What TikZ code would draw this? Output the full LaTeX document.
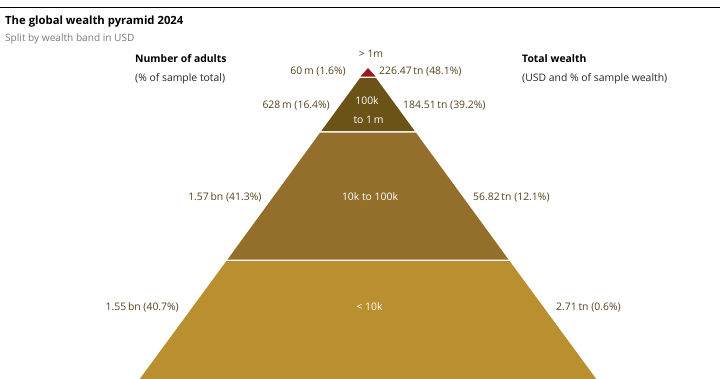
\documentclass[tikz,border=0pt]{standalone}
\usepackage{fontspec}
\setmainfont{Open Sans}
\definecolor{redtop}{HTML}{9A1A1E}
\definecolor{bandb}{HTML}{6B5216}
\definecolor{bandc}{HTML}{946F2C}
\definecolor{bandd}{HTML}{B98F2F}
\definecolor{lbl}{HTML}{54441F}
\definecolor{sub}{HTML}{7A7A7A}
\tikzset{
  lab/.style={font=\fontsize{10.4}{12}\selectfont, text=lbl, inner sep=0pt},
  inlab/.style={font=\fontsize{10.4}{12}\selectfont, text=white, inner sep=0pt},
  head/.style={font=\fontsize{10.4}{12}\selectfont\bfseries, text=black, inner sep=0pt},
  headsub/.style={font=\fontsize{10.4}{12}\selectfont, text=black!85, inner sep=0pt},
}
\begin{document}
\begin{tikzpicture}[x=1pt,y=-1pt]
\useasboundingbox (0,0) rectangle (720,378);
\fill[white] (0,0) rectangle (720,378);
% top rule
\draw[black, line width=0.9pt] (0,7) -- (720,7);
% title
\node[anchor=base west, inner sep=0pt, font=\fontsize{11.3}{14}\selectfont\bfseries] (title) at (5,24) {The global wealth pyramid 2024};
\node[anchor=base west, inner sep=0pt, text=sub, font=\fontsize{10.1}{12}\selectfont] (subtitle) at (5,41) {Split by wealth band in USD};
% column heads
\node[head, anchor=base west] (hl) at (135,62) {Number of adults};
\node[headsub, anchor=base west] (hl2) at (135,81) {(\% of sample total)};
\node[head, anchor=base west] (hr) at (522,62) {Total wealth};
\node[headsub, anchor=base west] (hr2) at (522,81) {(USD and \% of sample wealth)};
% pyramid bands
\fill[redtop] (368,68) -- (375.5,76.5) -- (360.5,76.5) -- cycle;
\fill[bandb] (360,78) -- (376,78) -- (414.7,131) -- (321.3,131) -- cycle;
\fill[bandc] (320.2,132.5) -- (415.8,132.5) -- (508.5,259.5) -- (227.5,259.5) -- cycle;
\fill[bandd] (226.4,261) -- (509.6,261) -- (597,380) -- (139,380) -- cycle;
% labels
\node[lab, anchor=base] (top) at (371,57) {> 1m};
\node[lab, anchor=base east] (l1) at (346,74) {60\,m (1.6\%)};
\node[lab, anchor=base west] (r1) at (379,74) {226.47\,tn (48.1\%)};
\node[lab, anchor=base east] (l2) at (330,108) {628\,m (16.4\%)};
\node[lab, anchor=base west] (r2) at (403,108) {184.51\,tn (39.2\%)};
\node[inlab, anchor=base] (b2a) at (367,104) {100k};
\node[inlab, anchor=base] (b2b) at (368.5,123) {to 1\,m};
\node[lab, anchor=base east] (l3) at (261.6,200) {1.57\,bn (41.3\%)};
\node[inlab, anchor=base] (b3) at (370,200) {10k to 100k};
\node[lab, anchor=base west] (r3) at (473,200) {56.82\,tn (12.1\%)};
\node[lab, anchor=base east] (l4) at (179,310) {1.55\,bn (40.7\%)};
\node[inlab, anchor=base] (b4) at (369.5,310) {< 10k};
\node[lab, anchor=base west] (r4) at (556,310) {2.71\,tn (0.6\%)};
\end{tikzpicture}
\end{document}
